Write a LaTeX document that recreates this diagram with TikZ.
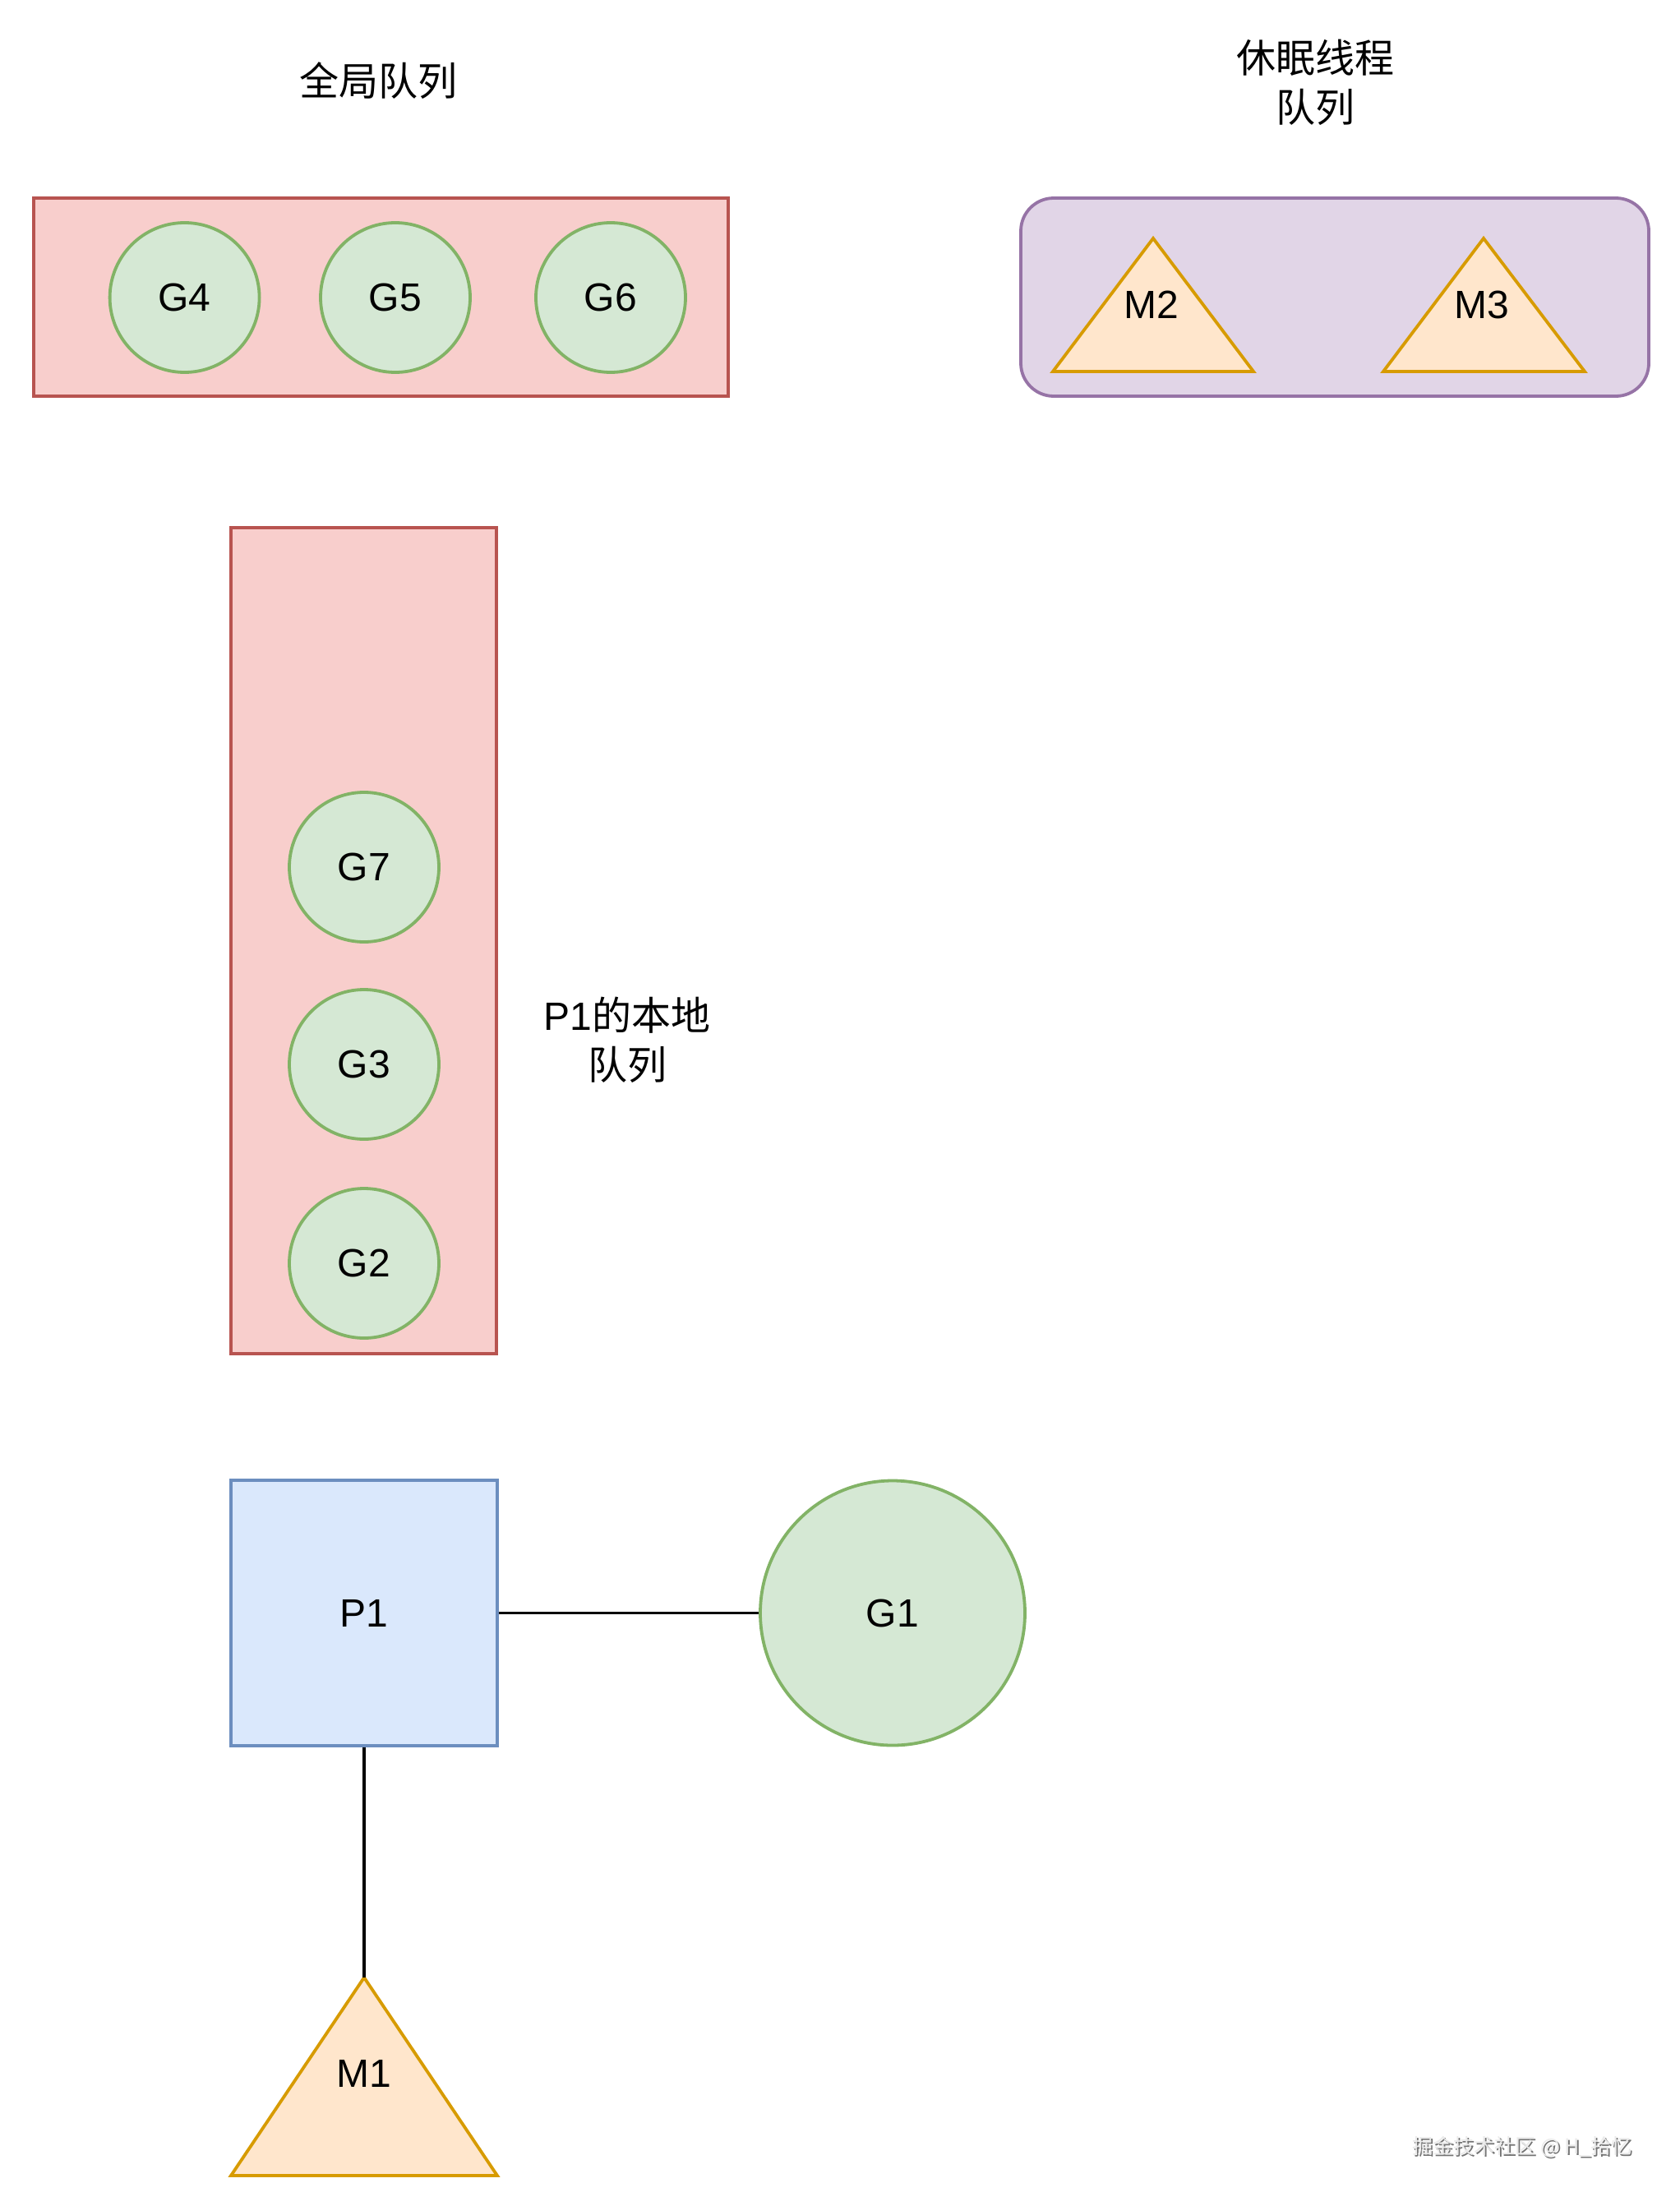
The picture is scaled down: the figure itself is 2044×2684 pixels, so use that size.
\documentclass[tikz,border=0pt]{standalone}
\usepackage{fontspec}
\setmainfont{Liberation Sans}
\newfontfamily\cjk{Noto Sans CJK SC}
\definecolor{redfill}{HTML}{F8CECC}
\definecolor{redline}{HTML}{B85450}
\definecolor{greenfill}{HTML}{D5E8D4}
\definecolor{greenline}{HTML}{82B366}
\definecolor{bluefill}{HTML}{DAE8FC}
\definecolor{blueline}{HTML}{6C8EBF}
\definecolor{orangefill}{HTML}{FFE6CC}
\definecolor{orangeline}{HTML}{D79B00}
\definecolor{purplefill}{HTML}{E1D5E7}
\definecolor{purpleline}{HTML}{9673A6}
\tikzset{
  txt/.style={font=\fontsize{48}{56}\selectfont, inner sep=0pt},
  cjktxt/.style={font=\cjk\fontsize{48}{60}\selectfont, inner sep=0pt, align=center},
  redbox/.style={draw=redline, fill=redfill, line width=3.8pt, inner sep=0pt},
  gnode/.style={circle, draw=greenline, fill=greenfill, line width=3.8pt, inner sep=0pt, minimum size=182pt, txt},
  pbox/.style={draw=blueline, fill=bluefill, line width=3.8pt, inner sep=0pt, minimum width=324pt, minimum height=323pt, txt},
  tri/.style={draw=orangeline, fill=orangefill, line width=3.8pt, line join=miter},
  link/.style={draw=black, line width=3.8pt},
}
\begin{document}
\begin{tikzpicture}[x=1pt,y=-1pt]
\useasboundingbox (0,0) rectangle (2044,2684);
\fill[white] (0,0) rectangle (2044,2684);

% global queue
\node[cjktxt] (gtitle) at (460,98) {全局队列};
\node[redbox, minimum width=845pt, minimum height=241pt] (gq) at (463.5,361.5) {};
\node[gnode] (g4) at (224.6,362) {G4};
\node[gnode] (g5) at (481,362) {G5};
\node[gnode] (g6) at (743,362) {G6};

% sleeping thread queue
\node[cjktxt] (stitle) at (1600,100) {休眠线程\\队列};
\node[draw=purpleline, fill=purplefill, line width=3.8pt, rounded corners=40pt, minimum width=764pt, minimum height=241pt, inner sep=0pt] (sq) at (1624,361.5) {};
\draw[tri] (1281,452) -- (1403,290) -- (1525,452) -- cycle;
\node[txt] (m2) at (1401,371) {M2};
\draw[tri] (1683,452) -- (1805,290) -- (1928,452) -- cycle;
\node[txt] (m3) at (1803,371) {M3};

% local queue
\node[redbox, minimum width=323pt, minimum height=1005pt] (lq) at (442.5,1144.5) {};
\node[gnode] (g7) at (443,1055) {G7};
\node[gnode] (g3) at (443,1295) {G3};
\node[gnode] (g2) at (443,1537) {G2};
\node[cjktxt] (ltitle) at (763,1265) {{\fontspec{Liberation Sans}P1}的本地\\队列};

% P1, G1, M1
\node[pbox] (p1) at (443,1962.5) {P1};
\node[gnode, minimum size=322pt] (g1) at (1086,1962.5) {G1};
\coordinate (m1top) at (443,2406);
\draw[tri] (281,2647) -- (m1top) -- (605,2647) -- cycle;
\node[txt] (m1) at (443,2523) {M1};
\draw[link] (p1.east) -- (g1.west);
\draw[link] (p1.south) -- (m1top);

% watermark
\node[font=\cjk\fontsize{25}{30}\selectfont, text=black!55, inner sep=0pt] (wmshadow) at (1854,2614) {掘金技术社区 @ H\_拾忆};
\node[font=\cjk\fontsize{25}{30}\selectfont, text=black!8, inner sep=0pt] (wm) at (1852,2612) {掘金技术社区 @ H\_拾忆};
\end{tikzpicture}
\end{document}
